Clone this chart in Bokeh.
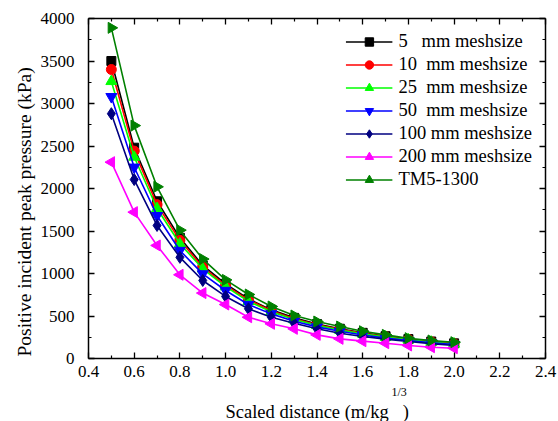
import numpy as np
from bokeh.plotting import figure
from bokeh.models import (LinearAxis, Title, FixedTicker, PrintfTickFormatter,
                          CustomJSTickFormatter, Range1d)
from bokeh.embed import file_html
from bokeh.resources import INLINE

# ---------------- data ----------------
scaled_distance = [0.5, 0.6, 0.7, 0.8, 0.9, 1.0, 1.1, 1.2, 1.3, 1.4, 1.5, 1.6, 1.7, 1.8, 1.9, 2.0]

p_5mm   = [3500, 2480, 1850, 1420, 1095, 878, 702, 572, 478, 405, 350, 302, 262, 228, 200, 178]
p_10mm  = [3400, 2440, 1810, 1390, 1075, 860, 690, 562, 468, 398, 343, 296, 257, 224, 197, 175]
p_25mm  = [3260, 2370, 1765, 1350, 1055, 845, 672, 550, 458, 390, 335, 290, 252, 220, 193, 171]
p_50mm  = [3080, 2250, 1680, 1270, 995, 800, 635, 525, 438, 372, 320, 276, 240, 210, 185, 164]
p_100mm = [2880, 2105, 1565, 1190, 918, 730, 585, 486, 415, 349, 298, 259, 228, 200, 175, 153]
p_200mm = [2310, 1722, 1330, 985, 770, 635, 486, 408, 349, 278, 231, 204, 180, 153, 133, 121]
p_tm5   = [3890, 2740, 2020, 1510, 1170, 925, 753, 612, 506, 435, 376, 321, 278, 239, 212, 192]

series_labels = ["5   mm meshsize", "10  mm meshsize", "25  mm meshsize", "50  mm meshsize",
                 "100 mm meshsize", "200 mm meshsize", "TM5-1300"]
series_values = [p_5mm, p_10mm, p_25mm, p_50mm, p_100mm, p_200mm, p_tm5]
series_colors = ["#000000", "#FF0000", "#00FF00", "#0000FF", "#000080", "#FF00FF", "#008000"]
series_markers = ["square", "circle", "triangle", "inverted_triangle", "diamond", "triangle", "triangle"]
series_angles = [0, 0, 0, 0, 0, np.pi / 2, -np.pi / 2]
series_sizes = [9, 10, 11, 11, 12, 11, 11]

x_ticks = [0.4, 0.6, 0.8, 1.0, 1.2, 1.4, 1.6, 1.8, 2.0, 2.2, 2.4]
x_minor = [0.5, 0.7, 0.9, 1.1, 1.3, 1.5, 1.7, 1.9, 2.1, 2.3]
y_ticks = [0, 500, 1000, 1500, 2000, 2500, 3000, 3500, 4000]
y_minor = [250, 750, 1250, 1750, 2250, 2750, 3250, 3750]

x_title = "Scaled distance (m/kg\u00a0\u00a0\u00a0)"
x_title_sup = "1/3"
y_title = "Positive incident peak pressure (kPa)"

FONT = "Liberation Serif"

p = figure(width=558, height=421, x_range=Range1d(0.4, 2.4), y_range=Range1d(0, 4000),
           output_backend="svg", toolbar_location=None,
           min_border_left=88, min_border_right=13, min_border_top=18, min_border_bottom=63)
p.background_fill_color = "white"
p.border_fill_color = "white"
p.outline_line_color = None
p.xgrid.grid_line_color = None
p.ygrid.grid_line_color = None

for lab, vals, col, mk, ang, sz in zip(series_labels, series_values, series_colors,
                                        series_markers, series_angles, series_sizes):
    p.line(scaled_distance, vals, line_color=col, line_width=1.6, legend_label=lab)
    p.scatter(scaled_distance, vals, marker=mk, angle=ang, size=sz, fill_color=col,
              line_color=col, legend_label=lab)

# mirrored axes
p.add_layout(LinearAxis(), "above")
p.add_layout(LinearAxis(), "right")

def style_axis(ax, ticks, minor, fmt, show_labels):
    ax.ticker = FixedTicker(ticks=ticks, minor_ticks=minor)
    ax.axis_line_color = "black"
    ax.axis_line_width = 1.5
    ax.major_tick_line_color = "black"
    ax.major_tick_line_width = 1.3
    ax.minor_tick_line_color = "black"
    ax.minor_tick_line_width = 1.2
    ax.major_tick_in = 6
    ax.major_tick_out = 0
    ax.minor_tick_in = 3
    ax.minor_tick_out = 0
    ax.major_label_text_font = FONT
    ax.major_label_text_color = "black"
    ax.major_label_text_font_size = "17px"
    if show_labels:
        ax.formatter = PrintfTickFormatter(format=fmt)
    else:
        ax.formatter = CustomJSTickFormatter(code="return ''")
        ax.major_label_standoff = 0

style_axis(p.below[0], x_ticks, x_minor, "%.1f", True)
style_axis(p.above[0], x_ticks, x_minor, "%.1f", False)
style_axis(p.left[0], y_ticks, y_minor, "%d", True)
style_axis(p.right[0], y_ticks, y_minor, "%d", False)
p.below[0].major_label_standoff = 7
p.left[0].major_label_standoff = 14

# y title (starts near the bottom of the frame, like the reference)
p.add_layout(Title(text=y_title, align="left", offset=2, standoff=5,
                   text_font=FONT, text_font_size="19.5px", text_font_style="normal",
                   text_color="black"), "left")

# x title with superscript, stacked in the below panel
p.add_layout(Title(text=x_title_sup, align="left", offset=303, standoff=7,
                   text_font=FONT, text_font_size="12px", text_font_style="normal",
                   text_color="black"), "below")
p.add_layout(Title(text=x_title, align="left", offset=137, standoff=-5,
                   text_font=FONT, text_font_size="18.5px", text_font_style="normal",
                   text_color="black"), "below")

leg = p.legend[0]
leg.location = "top_right"
leg.border_line_color = None
leg.background_fill_alpha = 0
leg.label_text_font = FONT
leg.label_text_font_size = "18.5px"
leg.label_text_color = "black"
leg.glyph_width = 47
leg.glyph_height = 21
leg.label_height = 21
leg.label_standoff = 6
leg.spacing = 2
leg.padding = 1
leg.margin = 13

open("out.html", "w").write(file_html(p, INLINE))
